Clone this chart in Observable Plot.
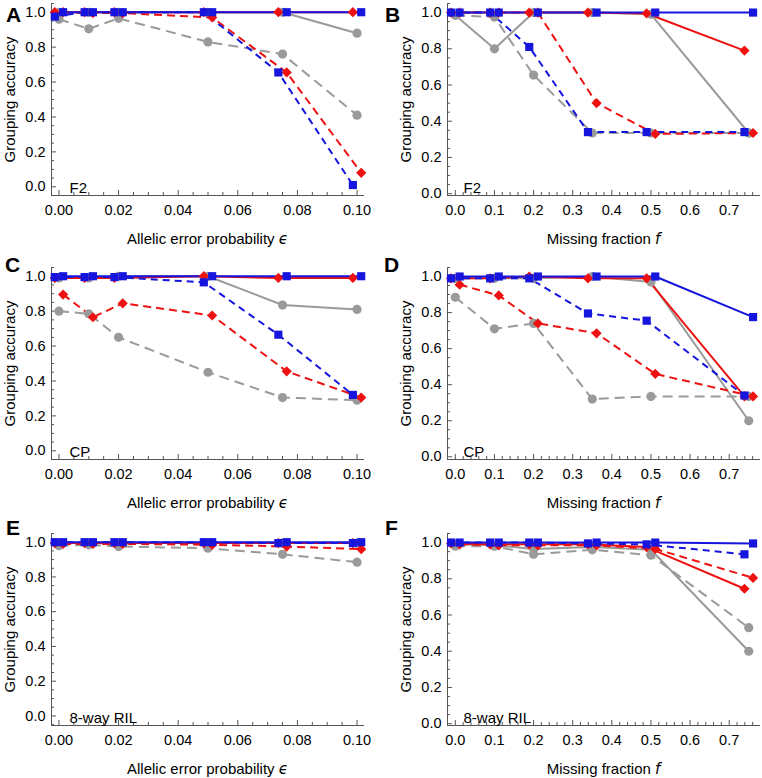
<!DOCTYPE html>
<html><head><meta charset="utf-8">
<script src="https://cdn.jsdelivr.net/npm/d3@7"></script>
<script src="https://cdn.jsdelivr.net/npm/@observablehq/plot@0.6"></script>
<style>
body{margin:0;background:#fff;}
#root{position:relative;width:762px;height:778px;font-family:"Liberation Sans",Arial,sans-serif;color:#000;}
.panel{position:absolute;}
.letter{position:absolute;font-weight:bold;font-size:21px;line-height:21px;}
.xtitle{position:absolute;font-size:15px;line-height:20px;height:20px;white-space:nowrap;transform:translateX(-50%);}
.xtitle i{font-family:"DejaVu Sans","Liberation Sans",sans-serif;}
</style></head><body><div id="root"></div>
<script>
// ---- series definitions (order of drawing) ----
const seriesKeys = ["graySolid", "grayDashed", "redSolid", "redDashed", "blueSolid", "blueDashed"];
const seriesColor = ["#9a9a9a", "#9a9a9a", "#ee1111", "#ee1111", "#1515dd", "#1515dd"];
const seriesDash = [null, "10,6", null, "8,5", null, "7,5"];
const seriesSymbol = ["circle", "circle", "diamond2", "diamond2", "square", "square"];
const seriesJitter = [0, 0, -1, 1, 1, -1];

// ---- x categories ----
const xError = [0, 0.01, 0.02, 0.05, 0.075, 0.1];
const xMissing = [0, 0.1, 0.2, 0.35, 0.5, 0.75];

// ---- values: one row per series (seriesKeys order) ----
const panelA = [
  [1.0, 1.0, 1.0, 1.0, 1.0, 0.88],
  [0.96, 0.905, 0.965, 0.83, 0.76, 0.41],
  [1.0, 1.0, 1.0, 1.0, 1.0, 1.0],
  [1.0, 0.995, 0.995, 0.97, 0.655, 0.08],
  [1.0, 1.0, 1.0, 1.0, 1.0, 1.0],
  [0.975, 1.0, 1.0, 1.0, 0.655, 0.01]
];
const panelB = [
  [0.985, 0.80, 1.0, 1.0, 0.99, 0.335],
  [0.985, 0.975, 0.655, 0.335, 0.335, 0.335],
  [1.0, 1.0, 1.0, 1.0, 0.995, 0.79],
  [1.0, 1.0, 1.0, 0.50, 0.33, 0.335],
  [1.0, 1.0, 1.0, 1.0, 1.0, 1.0],
  [1.0, 1.0, 0.81, 0.34, 0.34, 0.34]
];
const panelC = [
  [0.99, 0.99, 1.0, 1.0, 0.835, 0.81],
  [0.80, 0.785, 0.65, 0.45, 0.305, 0.29],
  [0.99, 0.99, 0.99, 1.0, 0.99, 0.99],
  [0.895, 0.765, 0.845, 0.775, 0.455, 0.305],
  [1.0, 1.0, 1.0, 1.0, 1.0, 1.0],
  [0.995, 0.995, 0.995, 0.965, 0.665, 0.32]
];
const panelD = [
  [0.99, 0.99, 0.99, 1.0, 0.97, 0.20],
  [0.885, 0.71, 0.74, 0.32, 0.335, 0.335],
  [0.99, 0.99, 1.0, 0.99, 0.99, 0.335],
  [0.955, 0.895, 0.74, 0.685, 0.46, 0.335],
  [1.0, 1.0, 1.0, 1.0, 1.0, 0.775],
  [0.99, 0.99, 0.99, 0.795, 0.755, 0.34]
];
const panelE = [
  [0.995, 0.995, 0.995, 0.995, 0.995, 0.995],
  [0.98, 0.985, 0.975, 0.965, 0.93, 0.885],
  [0.995, 0.995, 0.995, 0.995, 0.995, 0.995],
  [0.99, 0.99, 0.99, 0.985, 0.975, 0.96],
  [1.0, 1.0, 1.0, 1.0, 1.0, 1.0],
  [1.0, 1.0, 1.0, 1.0, 0.995, 0.995]
];
const panelF = [
  [0.99, 0.985, 0.965, 0.975, 0.96, 0.40],
  [0.98, 0.98, 0.935, 0.96, 0.93, 0.53],
  [0.995, 0.99, 0.99, 0.99, 0.975, 0.745],
  [0.99, 0.985, 0.985, 0.985, 0.965, 0.805],
  [1.0, 1.0, 1.0, 1.0, 1.0, 0.995],
  [1.0, 1.0, 1.0, 0.995, 0.99, 0.935]
];
const allPanels = [panelA, panelB, panelC, panelD, panelE, panelF];

// ---- labels ----
const panelLetters = ["A", "B", "C", "D", "E", "F"];
const populations = ["F2", "F2", "CP", "CP", "8-way RIL", "8-way RIL"];
const xTitleErr = 'Allelic error probability <i>\u03F5</i>';
const xTitleMiss = 'Missing fraction <i>f</i>';
const yTitle = "Grouping accuracy";

// ---- ticks ----
const errTicks = [0, 0.02, 0.04, 0.06, 0.08, 0.1];
const missTicks = [0, 0.1, 0.2, 0.3, 0.4, 0.5, 0.6, 0.7];
const yTicks = [0, 0.2, 0.4, 0.6, 0.8, 1.0];
const errMinor = d3.range(0, 21).map(i => i * 0.005).filter((v, i) => i % 4 !== 0);
const missMinor = d3.range(0, 39).map(i => i * 0.02).filter((v, i) => i % 5 !== 0);
const yMinor = d3.range(-1, 22).map(i => i * 0.05).filter((v, i) => (i - 1) % 4 !== 0);
const yLow = [-0.05, -0.01, -0.05, -0.015, -0.055, -0.01];

// ---- layout ----
const FW = 313, FH = 192, H = 252, MT = 3;
const colLeft = [0, 380], colWidth = [380, 382], colMarginLeft = [51, 67];
const rowTop = [0, 264, 530];
const letterPos = [[6, 4], [385, 4], [5, 254], [384, 254], [6, 517], [385, 517]];
const axisColor = "#555";

const root = document.getElementById("root");

function makePanel(i) {
  const col = i % 2, row = Math.floor(i / 2);
  const isErr = col === 0;
  const xs = isErr ? xError : xMissing;
  const jUnit = isErr ? 0.0014 : 0.011;
  const rows = [];
  allPanels[i].forEach((arr, s) => arr.forEach((v, j) => rows.push({s, x: xs[j] + seriesJitter[s] * jUnit, y: v})));
  const xDomain = isErr ? [-0.0025, 0.1025] : [-0.02, 0.78];
  const yDomain = [yLow[i], 1.05];
  const W = colWidth[col], mL = colMarginLeft[col], mR = W - mL - FW;
  const marks = [
    Plot.ruleX(isErr ? errMinor : missMinor, {x: d => d, insetTop: FH - 3, stroke: axisColor}),
    Plot.ruleX(isErr ? errTicks : missTicks, {x: d => d, insetTop: FH - 5, stroke: axisColor}),
    Plot.ruleY(yMinor.filter(v => v >= yDomain[0]), {y: d => d, insetRight: FW - 3, stroke: axisColor}),
    Plot.ruleY(yTicks, {y: d => d, insetRight: FW - 5, stroke: axisColor}),
    Plot.ruleX([xDomain[0]], {stroke: axisColor}),
    Plot.ruleY([yDomain[0]], {stroke: axisColor}),
    Plot.axisX(isErr ? errTicks : missTicks, {tickSize: 0, tickPadding: 9, tickFormat: d3.format(isErr ? ".2f" : ".1f"), label: null}),
    Plot.axisY(yTicks, {tickSize: 0, tickPadding: 6, tickFormat: d3.format(".1f"), label: null}),
    Plot.text([yTitle], {frameAnchor: "left", dx: -41, rotate: -90, textAnchor: "middle", lineAnchor: "middle", text: d => d, fontSize: 15}),
    Plot.text([populations[i]], {frameAnchor: "bottom-left", dx: isErr ? 18 : 16, dy: -3, textAnchor: "start", lineAnchor: "bottom", text: d => d, fontSize: 15})
  ];
  seriesKeys.forEach((k, s) => marks.push(Plot.line(rows.filter(r => r.s === s), {
    x: "x", y: "y", stroke: seriesColor[s], strokeWidth: 2,
    strokeDasharray: seriesDash[s], strokeLinecap: seriesDash[s] ? "butt" : "round"
  })));
  seriesKeys.forEach((k, s) => marks.push(Plot.dot(rows.filter(r => r.s === s), {
    x: "x", y: "y", fill: seriesColor[s], symbol: seriesSymbol[s], r: 4.6
  })));
  const svg = Plot.plot({
    width: W, height: H,
    marginLeft: mL, marginRight: mR, marginTop: MT, marginBottom: H - MT - FH,
    x: {domain: xDomain},
    y: {domain: yDomain},
    style: {fontFamily: '"Liberation Sans", Arial, sans-serif', fontSize: "14.5px", color: "#000", background: "transparent", overflow: "visible"},
    marks
  });
  const wrap = document.createElement("div");
  wrap.className = "panel";
  wrap.style.left = colLeft[col] + "px";
  wrap.style.top = rowTop[row] + "px";
  wrap.appendChild(svg);
  root.appendChild(wrap);

  const t = document.createElement("div");
  t.className = "xtitle";
  t.innerHTML = isErr ? xTitleErr : xTitleMiss;
  t.style.left = (colLeft[col] + mL + FW / 2) + "px";
  t.style.top = (rowTop[row] + MT + FH + 44 - 10) + "px";
  root.appendChild(t);

  const L = document.createElement("div");
  L.className = "letter";
  L.textContent = panelLetters[i];
  L.style.left = letterPos[i][0] + "px";
  L.style.top = letterPos[i][1] + "px";
  root.appendChild(L);
}
for (let i = 0; i < 6; i++) makePanel(i);
</script></body></html>
